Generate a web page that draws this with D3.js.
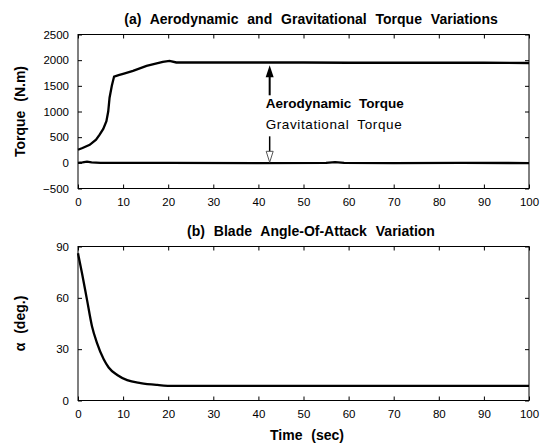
<!DOCTYPE html>
<html>
<head>
<meta charset="utf-8">
<script src="https://cdn.jsdelivr.net/npm/d3@7"></script>
<style>
body { margin: 0; background: #fff; }
svg text { font-family: "Liberation Sans", Arial, sans-serif; fill: #000; }
.tick text { font-size: 11.5px; }
.ttl { font-size: 14px; font-weight: bold; word-spacing: 5px; }
</style>
</head>
<body>
<div id="viz"></div>
<script>
// time axis ticks
var timeTicks = [0, 10, 20, 30, 40, 50, 60, 70, 80, 90, 100];
var torqueTicks = [-500, 0, 500, 1000, 1500, 2000, 2500];
var alphaTicks = [0, 30, 60, 90];

// aerodynamic torque (N.m)
var aeroT = [0, 1, 2.6, 4, 4.8, 5.6, 6.3, 6.7, 7.0, 7.5, 8.0, 9, 10, 12.2, 15.2, 18.8, 20.3, 21.8, 30, 40, 50, 60, 70, 80, 90, 100];
var aeroV = [255, 290, 350, 450, 549, 660, 810, 1000, 1268, 1500, 1680, 1710, 1735, 1790, 1888, 1967, 1986, 1955, 1955, 1955, 1955, 1950, 1950, 1950, 1950, 1945];

// gravitational torque (N.m)
var gravT = [0, 1, 2, 3, 5, 20, 40, 55, 57, 59, 70, 85, 100];
var gravV = [0, 10, 25, 8, 0, 0, -5, 0, 15, 0, -5, 0, -5];

// blade angle of attack (deg)
var alphaT = [0, 0.9, 2.0, 3.1, 4.2, 5.7, 6.8, 8.7, 10.9, 13.9, 17.6, 21.3, 30, 50, 70, 100];
var alphaV = [86, 74.2, 58.8, 43.4, 33.7, 24.1, 19.3, 14.9, 11.9, 10.2, 9.1, 8.5, 8.5, 8.5, 8.5, 8.5];

var W = 547, H = 446;
var left = 78, plotW = 451, plotH = 154;
var topA = 34.5, topB = 246.5;
var midX = 311;

var svg = d3.select("#viz").append("svg")
    .attr("width", W)
    .attr("height", H);

var x = d3.scaleLinear().domain([0, 100]).range([0, plotW]);
var yA = d3.scaleLinear().domain([-500, 2500]).range([plotH, 0]);
var yB = d3.scaleLinear().domain([0, 90]).range([plotH, 0]);

function zip(t, v) { return t.map(function(d, i) { return [d, v[i]]; }); }

function panel(top, y, yticks, title, ylab) {
	var g = svg.append("g").attr("transform", "translate(" + left + "," + top + ")");

	// ticks inside, on all four sides (matlab box)
	g.append("g").attr("transform", "translate(0," + plotH + ")")
		.call(d3.axisBottom(x).tickValues(timeTicks).tickSize(-4).tickPadding(9).tickFormat(d3.format("d")));
	g.append("g")
		.call(d3.axisTop(x).tickValues(timeTicks).tickSize(-4).tickFormat(""));
	g.append("g")
		.call(d3.axisLeft(y).tickValues(yticks).tickSize(-4).tickPadding(9).tickFormat(d3.format("d")));
	g.append("g").attr("transform", "translate(" + plotW + ",0)")
		.call(d3.axisRight(y).tickValues(yticks).tickSize(-4).tickFormat(""));
	g.selectAll(".domain").remove();
	g.selectAll(".tick line").attr("stroke", "#000");

	g.append("rect")
		.attr("width", plotW).attr("height", plotH)
		.attr("fill", "none").attr("stroke", "#000").attr("stroke-width", 1);

	svg.append("text").attr("class", "ttl")
		.attr("x", midX).attr("y", top - 11)
		.attr("text-anchor", "middle").text(title);

	svg.append("text").attr("class", "ttl")
		.attr("transform", "translate(25," + (top + plotH / 2) + ") rotate(-90)")
		.attr("text-anchor", "middle").text(ylab);
	return g;
}

var gA = panel(topA, yA, torqueTicks, "(a) Aerodynamic and Gravitational Torque Variations", "Torque (N.m)");
var gB = panel(topB, yB, alphaTicks, "(b) Blade Angle-Of-Attack Variation", "α (deg.)");

var lineA = d3.line().x(function(d) { return x(d[0]); }).y(function(d) { return yA(d[1]); });
var lineB = d3.line().curve(d3.curveMonotoneX).x(function(d) { return x(d[0]); }).y(function(d) { return yB(d[1]); });

gA.append("path").datum(zip(aeroT, aeroV))
	.attr("d", lineA).attr("fill", "none").attr("stroke", "#000").attr("stroke-width", 2.3);
gA.append("path").datum(zip(gravT, gravV))
	.attr("d", lineA).attr("fill", "none").attr("stroke", "#000").attr("stroke-width", 2.3);
gB.append("path").datum(zip(alphaT, alphaV))
	.attr("d", lineB).attr("fill", "none").attr("stroke", "#000").attr("stroke-width", 2.3);

// annotation arrows + labels
var ax = x(42.5);
var upTip = yA(1900), dnTip = yA(10);
gA.append("line").attr("x1", ax).attr("x2", ax).attr("y1", upTip + 10).attr("y2", upTip + 30)
	.attr("stroke", "#000").attr("stroke-width", 2);
gA.append("path")
	.attr("d", "M" + ax + "," + upTip + "L" + (ax - 4) + "," + (upTip + 12) + "L" + (ax + 4) + "," + (upTip + 12) + "Z")
	.attr("fill", "#000");
gA.append("line").attr("x1", ax).attr("x2", ax).attr("y1", dnTip - 26).attr("y2", dnTip - 10)
	.attr("stroke", "#000").attr("stroke-width", 1.5);
gA.append("path")
	.attr("d", "M" + ax + "," + dnTip + "L" + (ax - 3.5) + "," + (dnTip - 11) + "L" + (ax + 3.5) + "," + (dnTip - 11) + "Z")
	.attr("fill", "#fff").attr("stroke", "#555").attr("stroke-width", 1);

gA.append("text").attr("x", ax - 4).attr("y", yA(1060))
	.style("font-size", "13.5px").style("font-weight", "bold").style("word-spacing", "4px")
	.text("Aerodynamic Torque");
gA.append("text").attr("x", ax - 4).attr("y", yA(660))
	.style("font-size", "13.5px").style("letter-spacing", "0.6px").style("word-spacing", "4px")
	.text("Gravitational Torque");

svg.append("text").attr("class", "ttl")
	.attr("x", 307).attr("y", topB + plotH + 39)
	.attr("text-anchor", "middle").text("Time (sec)");
</script>
</body>
</html>
